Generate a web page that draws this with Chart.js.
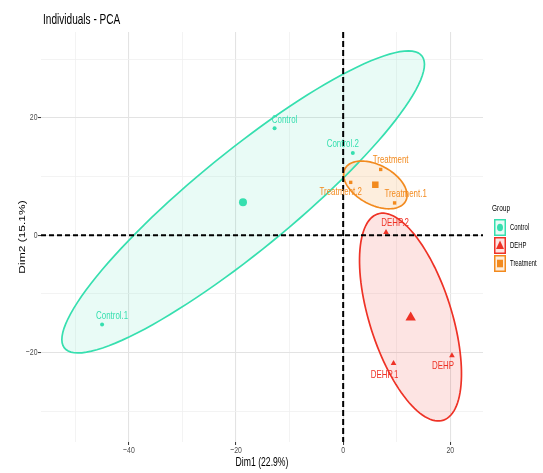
<!DOCTYPE html>
<html><head><meta charset="utf-8">
<script src="https://cdn.jsdelivr.net/npm/chart.js@4"></script>
<style>html,body{margin:0;padding:0;background:#fff;}canvas{display:block;}</style>
</head><body>
<canvas id="c" width="543" height="473" style="width:543px;height:473px"></canvas>
<script>
// ---- data ----
const groups = ['Control', 'DEHP', 'Treatment'];
const controlLabels = ['Control', 'Control.1', 'Control.2'];
const controlX = [-12.8, -45.0, 1.8];
const controlY = [18.2, -15.2, 14.0];
const dehpLabels = ['DEHP', 'DEHP.1', 'DEHP.2'];
const dehpX = [20.3, 9.4, 8.0];
const dehpY = [-20.5, -21.8, 0.5];
const treatmentLabels = ['Treatment', 'Treatment.1', 'Treatment.2'];
const treatmentX = [7.0, 9.6, 1.4];
const treatmentY = [11.2, 5.5, 9.0];
const centroidX = [-18.7, 12.6, 6.0];
const centroidY = [5.6, -14.0, 8.6];
const xTickLabels = [-40, -20, 0, 20];
const yTickLabels = [-20, 0, 20];
const xGridValues = [-50, -40, -30, -20, -10, 0, 10, 20];
const yGridValues = [-30, -20, -10, 0, 10, 20, 30];
const titleText = 'Individuals - PCA';
const xTitle = 'Dim1 (22.9%)';
const yTitle = 'Dim2 (15.1%)';
const legendTitle = 'Group';

// ---- styles ----
const COLORS = { Control: '#36DFAF', DEHP: '#EE3226', Treatment: '#F28A1E' };
const FILLS = { Control: 'rgba(54,223,175,0.11)', DEHP: 'rgba(238,50,38,0.13)', Treatment: 'rgba(242,138,30,0.15)' };
const SHAPES = { Control: 'circle', DEHP: 'triangle', Treatment: 'rect' };
const SMALL_R = { Control: 2, DEHP: 3.3, Treatment: 2.4 };
const BIG_R = { Control: 4, DEHP: 6, Treatment: 4.6 };
const LABEL_OFFSETS = {
  Control: [[10, -8], [10, -9], [-10, -9]],
  DEHP: [[-9, 10], [-9, 12], [9, -9]],
  Treatment: [[10, -9], [11, -9], [-10, 9.5]]
};
const FONT = "'Liberation Sans', Arial, sans-serif";
const SX = 0.72;

const groupData = {
  Control: { x: controlX, y: controlY, labels: controlLabels },
  DEHP: { x: dehpX, y: dehpY, labels: dehpLabels },
  Treatment: { x: treatmentX, y: treatmentY, labels: treatmentLabels }
};

function txt(ctx, s, x, y, size, color, align, baseline, rot) {
  ctx.save();
  ctx.translate(x, y);
  ctx.scale(SX, 1);
  if (rot) ctx.rotate(rot);
  ctx.font = size + 'px ' + FONT;
  ctx.fillStyle = color;
  ctx.textAlign = align || 'left';
  ctx.textBaseline = baseline || 'alphabetic';
  ctx.fillText(s, 0, 0);
  ctx.restore();
}

// confidence ellipse around the barycentre (FactoMineR coord.ellipse, bary = TRUE)
function ellipsePoints(xs, ys) {
  const n = xs.length;
  const mx = xs.reduce((a, b) => a + b, 0) / n;
  const my = ys.reduce((a, b) => a + b, 0) / n;
  let sxx = 0, syy = 0, sxy = 0;
  for (let i = 0; i < n; i++) {
    sxx += (xs[i] - mx) ** 2; syy += (ys[i] - my) ** 2; sxy += (xs[i] - mx) * (ys[i] - my);
  }
  sxx /= (n - 1) * n; syy /= (n - 1) * n; sxy /= (n - 1) * n;
  const t = Math.sqrt(-2 * Math.log(0.05));
  const s1 = Math.sqrt(sxx), s2 = Math.sqrt(syy);
  const d = Math.acos(sxy / (s1 * s2));
  const pts = [];
  for (let k = 0; k < 120; k++) {
    const a = 2 * Math.PI * k / 120;
    pts.push([t * s1 * Math.cos(a + d / 2) + mx, t * s2 * Math.cos(a - d / 2) + my]);
  }
  return pts;
}

const datasets = [];
groups.forEach((g, gi) => {
  const gd = groupData[g];
  datasets.push({
    label: g,
    data: gd.x.map((v, i) => ({ x: v, y: gd.y[i] })),
    pointStyle: SHAPES[g], pointRadius: SMALL_R[g], backgroundColor: COLORS[g],
    borderWidth: 0, pointBorderWidth: 0
  });
  datasets.push({
    label: g + ' centre',
    data: [{ x: centroidX[gi], y: centroidY[gi] }],
    pointStyle: SHAPES[g], pointRadius: BIG_R[g], backgroundColor: COLORS[g],
    borderWidth: 0, pointBorderWidth: 0
  });
});

const decor = {
  id: 'decor',
  beforeDatasetsDraw(chart) {
    const ctx = chart.ctx, xs = chart.scales.x, ys = chart.scales.y, ca = chart.chartArea;
    ctx.save();
    ctx.beginPath(); ctx.rect(ca.left, ca.top, ca.right - ca.left, ca.bottom - ca.top); ctx.clip();
    groups.forEach(g => {
      const pts = ellipsePoints(groupData[g].x, groupData[g].y);
      ctx.beginPath();
      pts.forEach((p, i) => {
        const px = xs.getPixelForValue(p[0]), py = ys.getPixelForValue(p[1]);
        if (i === 0) ctx.moveTo(px, py); else ctx.lineTo(px, py);
      });
      ctx.closePath();
      ctx.fillStyle = FILLS[g]; ctx.fill();
    });
    groups.forEach(g => {
      const pts = ellipsePoints(groupData[g].x, groupData[g].y);
      ctx.beginPath();
      pts.forEach((p, i) => {
        const px = xs.getPixelForValue(p[0]), py = ys.getPixelForValue(p[1]);
        if (i === 0) ctx.moveTo(px, py); else ctx.lineTo(px, py);
      });
      ctx.closePath();
      ctx.strokeStyle = COLORS[g]; ctx.lineWidth = 1.7; ctx.stroke();
    });
    // dashed zero lines
    ctx.strokeStyle = '#000'; ctx.lineWidth = 2;
    const y0 = ys.getPixelForValue(0), x0 = xs.getPixelForValue(0);
    ctx.setLineDash([5, 3]);
    ctx.beginPath(); ctx.moveTo(ca.left, y0); ctx.lineTo(ca.right, y0); ctx.stroke();
    ctx.setLineDash([6, 3]);
    ctx.beginPath(); ctx.moveTo(x0, ca.top); ctx.lineTo(x0, ca.bottom); ctx.stroke();
    ctx.restore();
  },
  afterDatasetsDraw(chart) {
    const ctx = chart.ctx, xs = chart.scales.x, ys = chart.scales.y;
    groups.forEach(g => {
      const gd = groupData[g];
      gd.labels.forEach((lab, i) => {
        const px = xs.getPixelForValue(gd.x[i]) + LABEL_OFFSETS[g][i][0];
        const py = ys.getPixelForValue(gd.y[i]) + LABEL_OFFSETS[g][i][1];
        txt(ctx, lab, px, py, 11, COLORS[g], 'center', 'middle');
      });
    });
  },
  afterDraw(chart) {
    const ctx = chart.ctx, xs = chart.scales.x, ys = chart.scales.y, ca = chart.chartArea;
    txt(ctx, titleText, 43, 24, 14, '#000', 'left', 'alphabetic');
    xTickLabels.forEach(v => {
      txt(ctx, v < 0 ? '\u2212' + Math.abs(v) : String(v), xs.getPixelForValue(v), 450, 9.6, '#4d4d4d', 'center', 'middle');
    });
    yTickLabels.forEach(v => {
      txt(ctx, v < 0 ? '\u2212' + Math.abs(v) : String(v), 37.5, ys.getPixelForValue(v), 9.6, '#4d4d4d', 'right', 'middle');
    });
    txt(ctx, xTitle, (ca.left + ca.right) / 2, 462.5, 12, '#000', 'center', 'middle');
    txt(ctx, yTitle, 22.5, (ca.top + ca.bottom) / 2, 12, '#000', 'center', 'middle', -Math.PI / 2);
    // legend
    txt(ctx, legendTitle, 492, 211, 9, '#000', 'left', 'alphabetic');
    groups.forEach((g, i) => {
      const top = 219 + i * 18, left = 494, w = 12, h = 17;
      ctx.save();
      ctx.fillStyle = FILLS[g];
      ctx.fillRect(left, top, w, h);
      ctx.strokeStyle = COLORS[g]; ctx.lineWidth = 1.5;
      ctx.strokeRect(left + 0.75, top + 0.75, w - 1.5, h - 1.5);
      const cx = left + w / 2, cy = top + h / 2;
      ctx.fillStyle = COLORS[g];
      ctx.beginPath();
      if (SHAPES[g] === 'circle') {
        ctx.ellipse(cx, cy, 3, 3.8, 0, 0, 2 * Math.PI);
      } else if (SHAPES[g] === 'triangle') {
        ctx.moveTo(cx, cy - 5); ctx.lineTo(cx + 4, cy + 3.5); ctx.lineTo(cx - 4, cy + 3.5); ctx.closePath();
      } else {
        ctx.rect(cx - 3, cy - 3.8, 6, 7.6);
      }
      ctx.fill();
      ctx.restore();
      txt(ctx, g, 510, top + h / 2, 8.2, '#000', 'left', 'middle');
    });
  }
};

function gridOpts(labels) {
  return {
    color: c => labels.includes(c.tick && c.tick.value) ? '#e3e3e3' : '#f0f0f0',
    lineWidth: c => labels.includes(c.tick && c.tick.value) ? 1.1 : 0.8,
    drawTicks: true,
    tickLength: 3,
    tickWidth: 1,
    tickColor: c => labels.includes(c.tick && c.tick.value) ? '#333333' : 'rgba(0,0,0,0)'
  };
}

new Chart(document.getElementById('c'), {
  type: 'scatter',
  data: { datasets },
  options: {
    responsive: false,
    animation: false,
    events: [],
    layout: { padding: { top: 32, right: 60, left: 0, bottom: 0 } },
    plugins: { legend: { display: false }, tooltip: { enabled: false }, title: { display: false } },
    scales: {
      x: {
        type: 'linear', min: -56.4, max: 26.1,
        afterBuildTicks: s => { s.ticks = xGridValues.map(v => ({ value: v })); },
        afterFit: s => { s.height = 31; },
        ticks: { display: false },
        grid: gridOpts(xTickLabels),
        border: { display: false }
      },
      y: {
        type: 'linear', min: -35.2, max: 34.6,
        afterBuildTicks: s => { s.ticks = yGridValues.map(v => ({ value: v })); },
        afterFit: s => { s.width = 41; },
        ticks: { display: false },
        grid: gridOpts(yTickLabels),
        border: { display: false }
      }
    }
  },
  plugins: [decor]
});
</script>
</body></html>
